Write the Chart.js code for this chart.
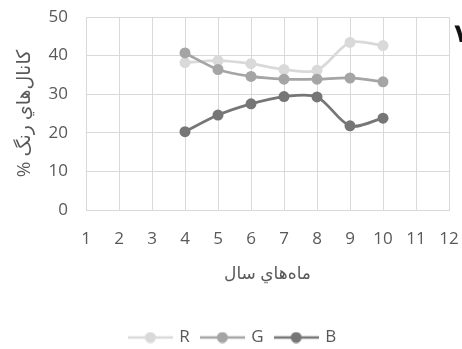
<!DOCTYPE html>
<html>
<head>
<meta charset="utf-8">
<script src="https://cdn.jsdelivr.net/npm/chart.js@4.4.1/dist/chart.umd.min.js"></script>
<style>
    html, body { margin: 0; padding: 0; background: #ffffff; overflow: hidden; }
    .wrap { position: relative; width: 462px; height: 349px; overflow: hidden; }
    .corner-mark {
        position: absolute; left: 454px; top: 18px;
        font: bold 26px 'DejaVu Sans', sans-serif; color: #111;
    }
</style>
</head>
<body>
<div class="wrap">
    <canvas id="chart" width="462" height="349"></canvas>
    <span class="corner-mark">۷</span>
</div>
<script>
// months of the year on the x axis
const months = [4, 5, 6, 7, 8, 9, 10];
// colour channel share (%) per month
const seriesR = [38.2, 38.7, 37.9, 36.4, 36.2, 43.4, 42.6];
const seriesG = [40.7, 36.4, 34.6, 33.9, 33.9, 34.2, 33.2];
const seriesB = [20.3, 24.6, 27.5, 29.4, 29.3, 21.8, 23.8];
const xTicks = [1, 2, 3, 4, 5, 6, 7, 8, 9, 10, 11, 12];
const yTicks = [0, 10, 20, 30, 40, 50];

const textColor = '#595959';
const gridColor = '#d9d9d9';
const fontFamily = "'Open Sans', 'DejaVu Sans', sans-serif";

Chart.defaults.font.family = fontFamily;
Chart.defaults.color = textColor;

function toPoints(values) {
    return values.map((v, i) => ({x: months[i], y: v}));
}

// legend swatch: short line with a dot in the middle
function legendSwatch(color) {
    const c = document.createElement('canvas');
    c.width = 45;
    c.height = 12;
    const ctx = c.getContext('2d');
    ctx.strokeStyle = color;
    ctx.lineWidth = 2.5;
    ctx.beginPath();
    ctx.moveTo(0, 6);
    ctx.lineTo(45, 6);
    ctx.stroke();
    ctx.fillStyle = color;
    ctx.beginPath();
    ctx.arc(22.5, 6, 5.5, 0, Math.PI * 2);
    ctx.fill();
    return c;
}

const series = [
    {label: 'R', values: seriesR, color: '#d9d9d9', order: 3},
    {label: 'G', values: seriesG, color: '#a5a5a5', order: 2},
    {label: 'B', values: seriesB, color: '#767676', order: 1},
];

const datasets = series.map((s) => ({
    label: s.label,
    data: toPoints(s.values),
    borderColor: s.color,
    backgroundColor: s.color,
    pointBackgroundColor: s.color,
    pointBorderColor: s.color,
    pointRadius: 5.5,
    pointBorderWidth: 0,
    borderWidth: 2.75,
    tension: 0.3,
    fill: false,
    order: s.order,
    pointStyle: 'circle',
    swatch: legendSwatch(s.color)
}));

// invisible tick marks give the label gap without inflating the layout padding
const ctx = document.getElementById('chart').getContext('2d');
new Chart(ctx, {
    type: 'line',
    data: {datasets: datasets},
    options: {
        responsive: false,
        animation: false,
        layout: {
            padding: {left: 0, right: -4, top: 17, bottom: -7}
        },
        scales: {
            x: {
                type: 'linear',
                min: 1,
                max: 12,
                afterBuildTicks(scale) {
                    scale.ticks = xTicks.map((v) => ({value: v}));
                },
                afterFit(scale) {
                    scale.height = 107;
                    // keeps the plot's right edge while the legend stays centred
                    scale.paddingRight = 13;
                },
                grid: {
                    color: gridColor,
                    lineWidth: 1,
                    drawTicks: true,
                    tickLength: 19,
                    tickColor: 'rgba(0,0,0,0)'
                },
                border: {color: gridColor, width: 1},
                ticks: {
                    padding: 0,
                    color: textColor,
                    font: {size: 17},
                    maxRotation: 0,
                    autoSkip: false
                },
                title: {
                    display: true,
                    text: 'ماه‌هاي سال',
                    color: textColor,
                    font: {size: 17},
                    padding: {top: 0, bottom: 33}
                }
            },
            y: {
                type: 'linear',
                min: 0,
                max: 50,
                afterBuildTicks(scale) {
                    scale.ticks = yTicks.map((v) => ({value: v}));
                },
                afterFit(scale) {
                    scale.width = 86;
                },
                grid: {
                    color: gridColor,
                    lineWidth: 1,
                    drawTicks: true,
                    tickLength: 18,
                    tickColor: 'rgba(0,0,0,0)'
                },
                border: {color: gridColor, width: 1},
                ticks: {
                    padding: 0,
                    color: textColor,
                    font: {size: 17}
                },
                title: {
                    display: true,
                    // trailing RLM keeps the % sign on the left of the right-to-left text
                    text: 'کانال‌هاي رنگ %\u200F',
                    color: textColor,
                    font: {size: 19},
                    padding: {top: 13.5, bottom: 0}
                }
            }
        },
        plugins: {
            legend: {
                display: true,
                position: 'bottom',
                labels: {
                    usePointStyle: true,
                    pointStyleWidth: 41,
                    boxHeight: 12,
                    padding: 12,
                    color: textColor,
                    font: {size: 17},
                    generateLabels(chart) {
                        return chart.data.datasets.map((ds, i) => ({
                            text: ds.label,
                            datasetIndex: i,
                            pointStyle: ds.swatch,
                            fillStyle: ds.borderColor,
                            strokeStyle: ds.borderColor,
                            lineWidth: 0,
                            fontColor: textColor,
                            hidden: false
                        }));
                    }
                }
            },
            tooltip: {enabled: false}
        }
    }
});
</script>
</body>
</html>
